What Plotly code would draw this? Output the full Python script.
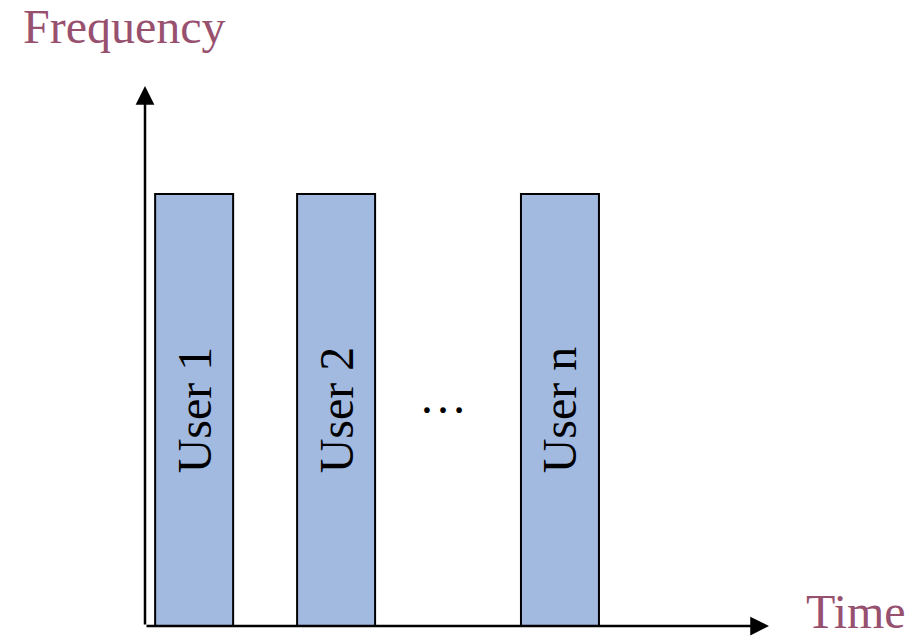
import plotly.graph_objects as go

# Data (time in slot units, frequency in band units)
users = ["User 1", "User 2", "User n"]
slot_start = [0.13, 1.95, 4.82]
slot_len = [1.0, 1.0, 1.0]
band_height = [4.0, 4.0, 4.0]
ellipsis_label = "…"
ellipsis_time = 3.82
ellipsis_freq = 2.08
time_axis_end = 8.0
freq_axis_end = 5.0
x_title = "Time"
y_title = "Frequency"

serif = "Liberation Serif, Times New Roman, serif"
title_color = "#98506f"

fig = go.Figure()
fig.add_trace(go.Bar(
    x=[s + w / 2 for s, w in zip(slot_start, slot_len)],
    y=band_height,
    width=slot_len,
    text=users,
    textposition="inside",
    insidetextanchor="middle",
    textangle=-90,
    textfont=dict(family=serif, size=48, color="black"),
    marker=dict(color="#a2b9e0", line=dict(color="black", width=2)),
    hoverinfo="skip",
))
fig.add_trace(go.Scatter(
    x=[ellipsis_time], y=[ellipsis_freq], mode="text",
    text=[ellipsis_label],
    textfont=dict(family=serif, size=48, color="black"),
    hoverinfo="skip",
))

# axis arrows
fig.add_annotation(x=time_axis_end, y=0, ax=0, ay=0, xref="x", yref="y",
                   axref="x", ayref="y", showarrow=True, arrowhead=2,
                   arrowsize=1.5, arrowwidth=2.5, arrowcolor="black", text="")
fig.add_annotation(x=0, y=freq_axis_end, ax=0, ay=0, xref="x", yref="y",
                   axref="x", ayref="y", showarrow=True, arrowhead=2,
                   arrowsize=1.5, arrowwidth=2.5, arrowcolor="black", text="")

fig.add_annotation(x=-0.1987, y=1.0567, xref="paper", yref="paper", text=y_title,
                   xanchor="left", yanchor="bottom",
                   showarrow=False, font=dict(family=serif, size=48, color=title_color))
fig.add_annotation(x=1.0561, y=-0.0255, xref="paper", yref="paper", text=x_title,
                   xanchor="left", yanchor="bottom",
                   showarrow=False, font=dict(family=serif, size=48, color=title_color))

fig.update_layout(
    width=910, height=640,
    margin=dict(l=145, r=141, t=86, b=14),
    paper_bgcolor="white", plot_bgcolor="white",
    showlegend=False,
    xaxis=dict(range=[0, time_axis_end], visible=False, fixedrange=True),
    yaxis=dict(range=[0, freq_axis_end], visible=False, fixedrange=True),
)

fig.write_html("out.html", config={"displayModeBar": False},
               post_script="document.body.style.margin='0';document.body.style.overflow='hidden';")
